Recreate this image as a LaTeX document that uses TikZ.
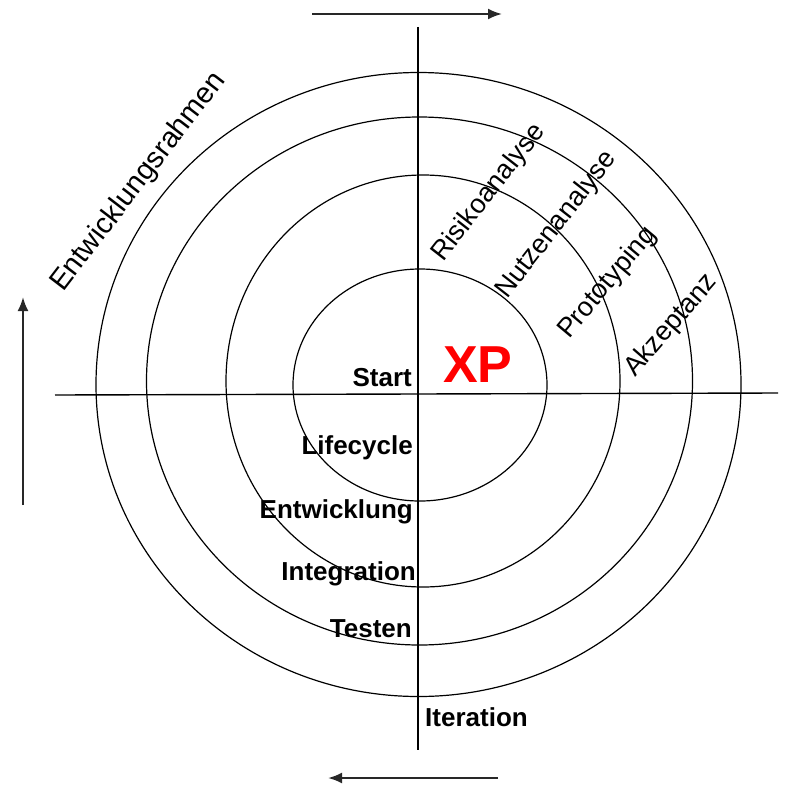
\documentclass[tikz,border=0pt]{standalone}
\usepackage{fontspec}
\setmainfont{Liberation Sans}
\usetikzlibrary{arrows.meta}
\definecolor{xpred}{RGB}{255,0,0}
\definecolor{arrowgray}{RGB}{40,40,40}
\tikzset{
  ring/.style={draw=black, line width=1.2pt},
  axis/.style={draw=black, line width=1.4pt},
  lab/.style={inner sep=0pt, font=\fontsize{26}{28}\selectfont\bfseries},
  rlab/.style={inner sep=0pt, anchor=base west, font=\fontsize{27}{29}\selectfont},
  flow/.style={draw=arrowgray, line width=2.2pt, -{Latex[length=14pt,width=11pt]}}
}
\begin{document}
\begin{tikzpicture}[x=1pt,y=-1pt]
\useasboundingbox (0,0) rectangle (786,784);
% rings
\draw[ring] (420,385) ellipse [x radius=127, y radius=116];
\draw[ring] (423,381) ellipse [x radius=197, y radius=206];
\draw[ring] (419.5,381) ellipse [x radius=273, y radius=264];
\draw[ring] (418.5,384.5) ellipse [x radius=322.5, y radius=312];
% axes
\coordinate (hl) at (55,395);
\coordinate (hr) at (778,393);
\coordinate (vt) at (418,27);
\coordinate (vb) at (418,750);
\draw[axis] (hl) -- (hr);
\draw[axis] (vt) -- (vb);
% outer arrows
\coordinate (ta) at (312,14);
\coordinate (tb) at (502,14);
\coordinate (la) at (23,505);
\coordinate (lb) at (23,297);
\coordinate (ba) at (498,778);
\coordinate (bb) at (328,778);
\draw[flow] (ta) -- (tb);
\draw[flow] (la) -- (lb);
\draw[flow] (ba) -- (bb);
% bold labels
\node[lab, anchor=base east] (start) at (412,386) {Start};
\node[lab, anchor=base east] (life) at (413,454) {Lifecycle};
\node[lab, anchor=base east] (entw) at (413,518) {Entwicklung};
\node[lab, anchor=base east] (integ) at (416,580) {Integration};
\node[lab, anchor=base east] (test) at (412,637) {Testen};
\node[lab, anchor=base west] (iter) at (425,726) {Iteration};
\node[inner sep=0pt, anchor=base west, text=xpred, font=\fontsize{52}{54}\selectfont\bfseries] (xp) at (443,382) {XP};
% rotated labels
\node[rlab, rotate=52] (risk) at (443,263) {Risikoanalyse};
\node[rlab, rotate=52] (nutz) at (507,300) {Nutzenanalyse};
\node[rlab, rotate=50] (proto) at (569,340) {Prototyping};
\node[rlab, rotate=49] (akz) at (635,378) {Akzeptanz};
\node[rlab, rotate=52.5, font=\fontsize{29}{31}\selectfont] (rahmen) at (63,293) {Entwicklungsrahmen};
\end{tikzpicture}
\end{document}
